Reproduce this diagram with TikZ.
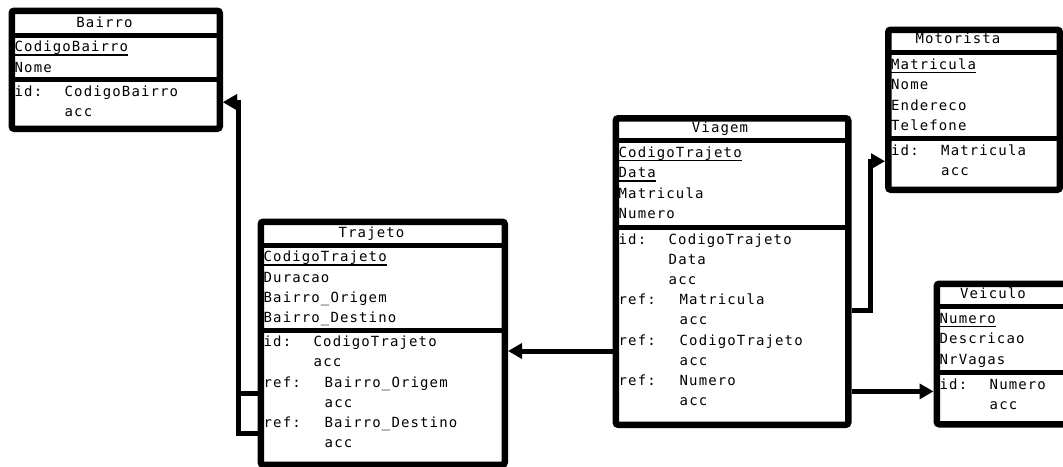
\documentclass[tikz,border=0pt]{standalone}
\usepackage{fontspec}
\usetikzlibrary{arrows.meta}
\newfontfamily\erfont{DejaVu Sans Mono}[LetterSpace=8]
\newcommand{\ersize}{\fontsize{14}{20}\selectfont}
% id / ref groups of a table
\newcommand{\idcols}[1]{\begin{tabular}{@{}p{50pt}@{}l@{}}#1\end{tabular}}
\newcommand{\refcols}[1]{\begin{tabular}{@{}p{61pt}@{}l@{}}#1\end{tabular}}

\begin{document}
\begin{tikzpicture}[x=1pt,y=-1pt,
    frame/.style={draw, line width=6.5pt, rounded corners=2.5pt, anchor=north west, inner sep=0pt},
    sep/.style={line width=5pt},
    title/.style={anchor=base, inner sep=0pt, font=\erfont\ersize},
    row/.style={anchor=north west, inner sep=0pt, text height=14pt, text depth=6pt, font=\erfont\ersize},
    grp/.style={anchor=north west, inner sep=0pt, font=\erfont\ersize},
    keyline/.style={line width=1.5pt},
    link/.style={line width=5pt, -{Triangle[length=14pt,width=15pt]}},
  ]
  \useasboundingbox (0,0) rectangle (1063,466);

  % Bairro
  \node[frame, minimum width=208pt, minimum height=118pt] (bairro) at (8.5,7.5) {};
  \draw[sep] (8.5,35) -- (216.5,35);
  \draw[sep] (8.5,79.5) -- (216.5,79.5);
  \node[title] (b-t) at (104.5,27) {Bairro};
  \node[row] (b-a1) at (14.5,37.5) {CodigoBairro};
  \node[row] (b-a2) at (b-a1.south west) {Nome};
  \node[grp] (b-id) at (14.5,82) {\idcols{id: & CodigoBairro\\ & acc}};

  % Trajeto
  \node[frame, minimum width=244pt, minimum height=243pt] (trajeto) at (257.5,218.5) {};
  \draw[sep] (257.5,245) -- (501.5,245);
  \draw[sep] (257.5,330) -- (501.5,330);
  \node[title] (tr-t) at (371.5,237) {Trajeto};
  \node[row] (tr-a1) at (263.5,247.5) {CodigoTrajeto};
  \node[row] (tr-a2) at (tr-a1.south west) {Duracao};
  \node[row] (tr-a3) at (tr-a2.south west) {Bairro\_Origem};
  \node[row] (tr-a4) at (tr-a3.south west) {Bairro\_Destino};
  \node[grp] (tr-id) at (263.5,332.5) {\idcols{id: & CodigoTrajeto\\ & acc}};
  \node[grp] (tr-ref1) at (tr-id.south west) {\refcols{ref: & Bairro\_Origem\\ & acc}};
  \node[grp] (tr-ref2) at (tr-ref1.south west) {\refcols{ref: & Bairro\_Destino\\ & acc}};

  % Viagem
  \node[frame, minimum width=232.5pt, minimum height=306.5pt] (viagem) at (612.5,115) {};
  \draw[sep] (612.5,140.5) -- (845,140.5);
  \draw[sep] (612.5,227.5) -- (845,227.5);
  \node[title] (vg-t) at (720,132) {Viagem};
  \node[row] (vg-a1) at (618.5,143) {CodigoTrajeto};
  \node[row] (vg-a2) at (vg-a1.south west) {Data};
  \node[row] (vg-a3) at (vg-a2.south west) {Matricula};
  \node[row] (vg-a4) at (vg-a3.south west) {Numero};
  \node[grp] (vg-id) at (618.5,230) {\idcols{id: & CodigoTrajeto\\ & Data\\ & acc}};
  \node[grp] (vg-ref1) at (vg-id.south west) {\refcols{ref: & Matricula\\ & acc}};
  \node[grp] (vg-ref2) at (vg-ref1.south west) {\refcols{ref: & CodigoTrajeto\\ & acc}};
  \node[grp] (vg-ref3) at (vg-ref2.south west) {\refcols{ref: & Numero\\ & acc}};

  % Motorista
  \node[frame, minimum width=171.5pt, minimum height=160pt] (motorista) at (885,26.5) {};
  \draw[sep] (885,52.5) -- (1056.5,52.5);
  \draw[sep] (885,138.5) -- (1056.5,138.5);
  \node[title] (mo-t) at (958,43) {Motorista};
  \node[row] (mo-a1) at (891,55) {Matricula};
  \node[row] (mo-a2) at (mo-a1.south west) {Nome};
  \node[row] (mo-a3) at (mo-a2.south west) {Endereco};
  \node[row] (mo-a4) at (mo-a3.south west) {Telefone};
  \node[grp] (mo-id) at (891,141) {\idcols{id: & Matricula\\ & acc}};

  % Veiculo (runs past the right edge)
  \node[frame, minimum width=136.5pt, minimum height=140.5pt] (veiculo) at (933.5,280.5) {};
  \draw[sep] (933.5,306.5) -- (1070,306.5);
  \draw[sep] (933.5,372.5) -- (1070,372.5);
  \node[title] (ve-t) at (993,298) {Veiculo};
  \node[row] (ve-a1) at (939.5,309) {Numero};
  \node[row] (ve-a2) at (ve-a1.south west) {Descricao};
  \node[row] (ve-a3) at (ve-a2.south west) {NrVagas};
  \node[grp] (ve-id) at (939.5,375) {\idcols{id: & Numero\\ & acc}};

  % identifiers
  \foreach \k in {b-a1,tr-a1,vg-a1,vg-a2,mo-a1,ve-a1}
    \draw[keyline] ([yshift=-3.5pt]\k.base west) -- ([yshift=-3.5pt]\k.base east);

  % references
  \draw[link] (trajeto.west |- tr-ref1) -- ++(-19,0) |- (bairro.east |- b-id);
  \draw[link] (trajeto.west |- tr-ref2) -- ++(-19,0) |- (bairro.east |- b-id);
  \draw[link] (viagem.west |- vg-ref2) -- (trajeto.east |- vg-ref2);
  \draw[link] (viagem.east |- vg-ref1) -- ++(19,0) |- (motorista.west |- mo-id);
  \draw[link] (viagem.east |- vg-ref3) -- (veiculo.west |- vg-ref3);
\end{tikzpicture}
\end{document}
